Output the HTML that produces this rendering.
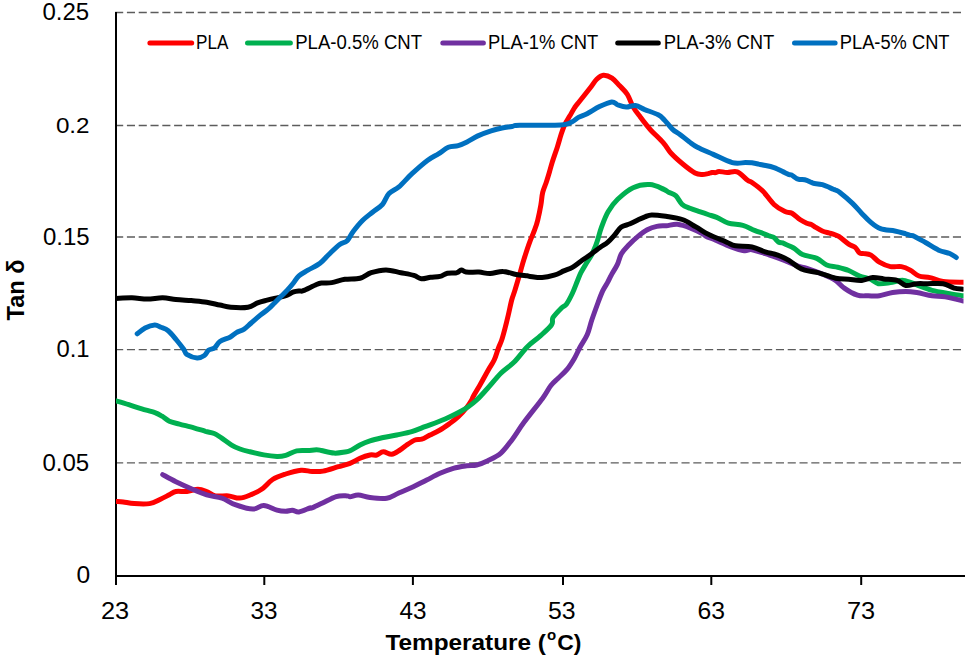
<!DOCTYPE html>
<html><head><meta charset="utf-8"><style>
html,body{margin:0;padding:0;background:#fff;}
svg{display:block;}
text{font-family:"Liberation Sans",sans-serif;fill:#000;}
</style></head><body>
<svg width="968" height="660" viewBox="0 0 968 660">
<rect width="968" height="660" fill="#fff"/>
<line x1="115.1" y1="12.5" x2="963" y2="12.5" stroke="#5c5c5c" stroke-width="1.35" stroke-dasharray="8.1 3.7"/>
<line x1="115.1" y1="125.5" x2="963" y2="125.5" stroke="#5c5c5c" stroke-width="1.35" stroke-dasharray="8.1 3.7"/>
<line x1="115.1" y1="237" x2="963" y2="237" stroke="#5c5c5c" stroke-width="1.35" stroke-dasharray="8.1 3.7"/>
<line x1="115.1" y1="349.6" x2="963" y2="349.6" stroke="#5c5c5c" stroke-width="1.35" stroke-dasharray="8.1 3.7"/>
<line x1="115.1" y1="462.8" x2="963" y2="462.8" stroke="#5c5c5c" stroke-width="1.35" stroke-dasharray="8.1 3.7"/>
<line x1="116" y1="12" x2="116" y2="585" stroke="#000" stroke-width="2"/>
<line x1="115" y1="576" x2="965" y2="576" stroke="#000" stroke-width="2"/>
<line x1="264.3" y1="576" x2="264.3" y2="585" stroke="#000" stroke-width="2"/>
<line x1="412.9" y1="576" x2="412.9" y2="585" stroke="#000" stroke-width="2"/>
<line x1="563" y1="576" x2="563" y2="585" stroke="#000" stroke-width="2"/>
<line x1="711.3" y1="576" x2="711.3" y2="585" stroke="#000" stroke-width="2"/>
<line x1="861.2" y1="576" x2="861.2" y2="585" stroke="#000" stroke-width="2"/>
<text x="42.4" y="19.6" font-size="23.24" textLength="46.8" lengthAdjust="spacingAndGlyphs">0.25</text>
<text x="55.9" y="133.4" font-size="22.90" textLength="33.7" lengthAdjust="spacingAndGlyphs">0.2</text>
<text x="43.0" y="244.5" font-size="24.60" textLength="46.7" lengthAdjust="spacingAndGlyphs">0.15</text>
<text x="56.5" y="357.0" font-size="23.61" textLength="33.1" lengthAdjust="spacingAndGlyphs">0.1</text>
<text x="42.4" y="470.5" font-size="23.61" textLength="46.8" lengthAdjust="spacingAndGlyphs">0.05</text>
<text x="76.4" y="583.2" font-size="23.26" textLength="13.7" lengthAdjust="spacingAndGlyphs">0</text>
<text x="100.9" y="618.6" font-size="23.24" textLength="28.2" lengthAdjust="spacingAndGlyphs">23</text>
<text x="250.6" y="618.6" font-size="23.24" textLength="27.0" lengthAdjust="spacingAndGlyphs">33</text>
<text x="399.5" y="618.6" font-size="23.24" textLength="27.0" lengthAdjust="spacingAndGlyphs">43</text>
<text x="547.9" y="618.6" font-size="23.24" textLength="27.6" lengthAdjust="spacingAndGlyphs">53</text>
<text x="697.6" y="618.6" font-size="23.24" textLength="27.5" lengthAdjust="spacingAndGlyphs">63</text>
<text x="846.9" y="618.6" font-size="23.24" textLength="28.2" lengthAdjust="spacingAndGlyphs">73</text>
<text x="385.4" y="650.3" font-size="22.97" font-weight="bold"><tspan textLength="160.6" lengthAdjust="spacingAndGlyphs">Temperature (</tspan><tspan font-size="15.0" dy="-10.0" dx="1.0">o</tspan><tspan dy="10.0" dx="1.0">C)</tspan></text>
<text transform="translate(23.6,320.5) rotate(-90)" font-size="23.45" font-weight="bold" textLength="61.1" lengthAdjust="spacingAndGlyphs">Tan δ</text>
<clipPath id="c"><rect x="116" y="0" width="847.5" height="576"/></clipPath>
<g clip-path="url(#c)" fill="none" stroke-width="5" stroke-linejoin="round" stroke-linecap="round">
<path d="M116.0,501.4 C117.2,501.5 120.2,501.5 123.2,501.9 C126.2,502.3 129.8,503.3 134.2,503.6 C138.6,503.9 145.1,504.3 149.5,503.6 C153.9,502.9 157.2,500.7 160.5,499.2 C163.8,497.7 166.7,496.1 169.3,494.8 C171.9,493.5 173.0,492.1 175.9,491.5 C178.8,490.9 183.2,491.9 186.9,491.5 C190.6,491.1 194.6,489.3 197.9,489.3 C201.2,489.3 203.8,490.4 206.7,491.5 C209.6,492.6 211.8,495.2 215.4,495.9 C219.1,496.6 224.6,495.5 228.6,495.9 C232.6,496.3 235.9,498.3 239.6,498.1 C243.3,497.9 246.9,496.3 250.6,494.8 C254.3,493.3 257.9,491.9 261.6,489.3 C265.3,486.8 268.6,482.1 272.6,479.5 C276.6,476.9 280.9,475.6 285.7,474.0 C290.4,472.4 296.7,470.6 301.1,470.2 C305.5,469.8 308.5,471.4 312.1,471.5 C315.8,471.6 318.6,471.9 323.0,471.1 C327.4,470.3 333.9,468.0 338.4,466.7 C342.9,465.4 346.4,464.7 350.0,463.3 C353.6,461.9 356.7,459.7 360.0,458.3 C363.3,456.9 367.2,455.6 370.0,455.0 C372.8,454.4 374.5,455.6 376.7,455.0 C378.9,454.4 380.8,451.8 383.3,451.7 C385.8,451.6 388.9,454.5 391.7,454.2 C394.5,453.9 397.5,451.5 400.0,450.0 C402.5,448.5 404.2,446.7 406.7,445.0 C409.2,443.3 412.5,441.0 415.0,440.0 C417.5,439.0 419.2,440.0 421.7,439.2 C424.2,438.4 426.9,436.5 430.0,435.0 C433.1,433.5 436.7,431.9 440.0,430.0 C443.3,428.1 446.9,425.5 450.0,423.3 C453.1,421.1 455.5,419.3 458.3,416.7 C461.1,414.1 464.5,410.3 466.7,407.5 C468.9,404.7 470.6,401.9 471.7,400.0 C472.8,398.1 472.1,398.5 473.5,396.0 C474.9,393.5 477.5,389.3 480.0,385.0 C482.5,380.7 485.9,374.2 488.3,370.0 C490.7,365.8 492.5,363.6 494.2,360.0 C495.9,356.4 497.1,351.6 498.3,348.3 C499.6,345.0 500.6,343.3 501.7,340.0 C502.8,336.7 503.9,332.5 505.0,328.3 C506.1,324.1 507.2,319.7 508.3,315.0 C509.4,310.3 510.6,304.2 511.7,300.0 C512.8,295.8 513.7,294.3 515.0,290.0 C516.3,285.7 518.2,279.4 519.7,274.2 C521.2,269.0 522.4,264.2 524.1,258.8 C525.8,253.5 527.9,246.9 529.7,242.1 C531.5,237.2 533.4,233.4 534.7,229.7 C536.1,226.0 536.8,224.0 537.8,219.8 C538.8,215.7 540.1,209.4 540.9,204.8 C541.7,200.2 541.8,196.1 542.7,192.4 C543.6,188.7 545.1,185.8 546.2,182.5 C547.3,179.2 548.3,175.9 549.3,172.5 C550.3,169.1 551.0,166.3 552.3,162.1 C553.6,157.9 555.8,151.8 557.3,147.2 C558.8,142.6 559.8,138.5 561.0,134.8 C562.2,131.1 563.2,127.9 564.7,124.8 C566.2,121.7 568.0,119.0 569.7,116.1 C571.4,113.2 573.1,110.0 574.7,107.5 C576.4,105.0 577.0,104.5 579.6,101.2 C582.2,98.0 587.2,91.7 590.1,88.0 C593.0,84.3 594.5,81.3 596.7,79.2 C598.9,77.1 600.8,75.4 603.3,75.2 C605.8,75.0 609.3,76.3 612.0,78.1 C614.7,79.9 617.1,83.1 619.7,85.8 C622.3,88.5 625.2,91.0 627.4,94.5 C629.6,98.0 630.8,102.8 632.9,106.6 C635.0,110.3 637.4,113.2 640.3,117.0 C643.1,120.8 646.1,124.9 650.0,129.2 C653.9,133.5 659.9,138.9 663.4,142.9 C666.9,146.9 667.8,149.7 671.1,153.3 C674.4,156.9 679.1,161.0 683.1,164.3 C687.1,167.6 691.8,171.3 695.0,173.0 C698.2,174.7 700.1,174.4 702.3,174.5 C704.5,174.6 706.5,173.9 708.1,173.6 C709.7,173.3 710.7,172.7 712.0,172.5 C713.3,172.3 714.5,172.8 715.7,172.6 C716.9,172.4 717.2,171.4 719.1,171.4 C721.0,171.4 724.3,172.4 727.3,172.5 C730.3,172.6 733.8,170.5 737.2,171.8 C740.6,173.1 745.1,178.4 747.6,180.2 C750.1,182.0 749.4,180.7 752.0,182.5 C754.6,184.3 759.3,187.6 763.0,191.3 C766.7,195.0 770.3,201.1 774.0,204.5 C777.7,207.9 782.0,210.2 785.0,211.6 C788.0,213.0 789.5,211.8 792.0,213.2 C794.5,214.6 797.8,218.1 800.3,219.8 C802.8,221.5 805.1,222.5 806.9,223.3 C808.7,224.1 809.8,223.7 811.3,224.4 C812.8,225.1 813.9,226.3 815.7,227.4 C817.5,228.5 820.1,230.1 822.3,231.0 C824.5,231.9 827.1,232.4 828.9,232.9 C830.7,233.4 831.6,233.6 833.3,234.2 C834.9,234.8 836.2,234.8 838.8,236.4 C841.4,238.1 846.0,242.3 848.7,244.1 C851.4,245.9 853.4,245.9 855.2,247.4 C857.0,248.9 858.1,252.0 859.6,253.0 C861.1,254.0 862.1,253.2 864.0,253.6 C865.9,253.9 868.4,253.7 871.0,255.1 C873.6,256.5 876.2,260.3 879.4,262.2 C882.6,264.1 886.7,265.9 890.4,266.6 C894.1,267.3 898.1,266.0 901.4,266.6 C904.7,267.2 907.3,268.5 910.2,270.1 C913.1,271.7 915.7,274.8 919.0,276.0 C922.3,277.2 926.0,276.7 930.0,277.6 C934.0,278.5 937.5,280.7 943.1,281.5 C948.7,282.3 960.1,282.1 963.5,282.2" stroke="#FF0000"/>
<path d="M116.0,400.8 C118.1,401.4 124.5,403.2 128.8,404.6 C133.1,406.0 137.5,407.6 141.8,408.9 C146.2,410.2 151.5,411.4 154.9,412.6 C158.3,413.8 159.7,414.8 162.1,416.2 C164.5,417.6 166.4,419.9 169.3,421.2 C172.2,422.5 175.4,423.0 179.5,424.1 C183.6,425.2 189.6,426.6 193.9,427.8 C198.2,429.0 202.1,430.4 205.5,431.4 C208.9,432.3 211.5,432.4 214.2,433.5 C216.8,434.6 218.5,436.0 221.4,437.9 C224.3,439.8 228.5,443.2 231.6,445.1 C234.7,447.0 236.9,447.9 240.0,449.0 C243.1,450.1 246.0,450.8 250.0,451.8 C254.0,452.8 259.3,454.1 263.8,454.9 C268.3,455.7 273.4,456.3 277.0,456.4 C280.6,456.5 282.4,456.2 285.7,455.3 C289.0,454.4 293.0,451.7 296.7,450.9 C300.4,450.1 304.4,450.7 307.7,450.5 C311.0,450.3 314.2,449.8 316.5,449.8 C318.8,449.8 318.5,449.9 321.4,450.5 C324.3,451.1 330.1,452.9 334.0,453.1 C337.9,453.4 342.3,452.4 345.0,452.0 C347.7,451.6 347.5,452.0 350.0,450.8 C352.5,449.6 356.7,446.7 360.0,445.0 C363.3,443.3 366.1,442.1 370.0,440.8 C373.9,439.6 378.9,438.5 383.3,437.5 C387.8,436.5 392.0,436.0 396.7,435.0 C401.4,434.0 407.0,433.1 411.7,431.7 C416.4,430.3 420.6,428.4 425.0,426.7 C429.4,425.0 434.1,423.4 438.3,421.7 C442.5,420.0 446.4,418.4 450.0,416.7 C453.6,415.0 456.9,413.4 460.0,411.7 C463.1,410.0 465.5,408.6 468.3,406.7 C471.1,404.8 473.6,402.9 476.7,400.0 C479.8,397.1 482.9,393.5 487.0,389.0 C491.1,384.5 496.6,377.5 501.1,373.0 C505.6,368.5 509.8,366.4 514.2,362.0 C518.6,357.6 523.0,351.1 527.4,346.7 C531.8,342.3 536.6,339.4 540.6,335.7 C544.6,332.0 549.5,327.7 551.6,324.7 C553.7,321.7 551.4,320.4 553.0,317.6 C554.6,314.8 559.3,310.1 561.5,307.9 C563.7,305.7 564.6,306.6 566.4,304.2 C568.2,301.8 570.6,297.1 572.4,293.3 C574.2,289.5 575.9,284.6 577.3,281.2 C578.7,277.8 579.5,275.5 580.9,272.7 C582.3,269.9 584.0,267.2 585.8,264.2 C587.6,261.2 590.2,257.5 591.8,254.5 C593.4,251.5 594.5,248.6 595.5,246.1 C596.5,243.6 596.8,242.7 597.8,239.5 C598.8,236.3 599.8,231.7 601.5,227.1 C603.2,222.5 605.4,216.3 608.1,211.7 C610.8,207.1 613.5,203.3 617.7,199.3 C621.9,195.3 627.7,190.1 633.1,187.7 C638.5,185.2 644.9,184.3 650.0,184.6 C655.1,184.9 660.8,188.1 663.9,189.4 C667.0,190.7 666.6,191.3 668.6,192.3 C670.6,193.3 673.5,193.6 675.7,195.6 C678.0,197.6 679.7,202.2 682.1,204.3 C684.5,206.4 687.1,207.1 690.0,208.3 C692.9,209.5 696.5,210.6 699.5,211.6 C702.5,212.6 705.1,213.5 708.0,214.5 C710.9,215.5 713.4,216.0 716.8,217.4 C720.2,218.8 724.0,221.9 728.4,223.2 C732.8,224.5 738.5,224.1 742.9,225.3 C747.2,226.5 751.0,229.0 754.5,230.4 C758.0,231.8 761.4,232.8 764.0,233.8 C766.6,234.8 768.3,235.6 770.0,236.2 C771.7,236.8 772.6,236.5 774.0,237.5 C775.4,238.5 776.9,241.1 778.4,242.0 C779.9,242.9 781.7,242.5 782.8,242.8 C783.9,243.2 783.2,243.2 785.0,244.1 C786.8,245.0 790.8,246.3 793.7,248.0 C796.6,249.7 798.6,252.8 802.5,254.5 C806.4,256.2 812.8,256.6 816.8,258.4 C820.8,260.1 823.2,263.5 826.7,265.0 C830.2,266.5 834.0,266.3 837.7,267.2 C841.4,268.1 845.1,269.0 848.7,270.5 C852.4,272.0 856.0,274.5 859.6,276.0 C863.2,277.5 867.5,278.0 870.6,279.3 C873.7,280.6 875.0,283.1 878.3,283.7 C881.6,284.2 886.2,283.2 890.4,282.6 C894.6,282.1 899.2,280.0 903.6,280.4 C908.0,280.8 912.0,283.1 916.8,284.8 C921.5,286.5 926.6,288.8 932.1,290.3 C937.6,291.8 944.5,292.7 949.7,293.6 C954.9,294.5 961.2,295.4 963.5,295.8" stroke="#00B050"/>
<path d="M162.7,474.6 C164.9,475.8 171.1,479.4 175.9,481.7 C180.7,484.0 186.2,486.5 191.3,488.7 C196.4,490.9 201.6,493.2 206.7,494.8 C211.8,496.4 217.2,496.5 222.0,498.1 C226.8,499.8 230.1,502.9 235.2,504.7 C240.3,506.5 248.0,509.0 252.8,509.1 C257.6,509.2 259.8,505.2 263.8,505.4 C267.8,505.6 273.4,509.2 277.0,510.2 C280.6,511.2 283.1,511.3 285.7,511.3 C288.2,511.3 290.1,510.1 292.3,510.2 C294.5,510.3 296.0,512.4 298.9,512.0 C301.8,511.6 307.7,508.7 309.9,508.0 C312.1,507.3 309.9,508.8 312.0,508.0 C314.1,507.2 318.5,504.9 322.5,503.0 C326.5,501.1 332.1,497.8 336.2,496.6 C340.3,495.4 344.8,495.9 347.1,495.9 C349.4,495.9 348.1,496.8 350.0,496.7 C351.9,496.6 355.0,494.9 358.3,495.0 C361.6,495.1 365.3,496.9 370.0,497.5 C374.7,498.1 382.0,499.0 386.7,498.3 C391.4,497.6 393.9,495.2 398.3,493.3 C402.7,491.4 408.6,488.9 413.3,486.7 C418.0,484.5 422.2,482.2 426.7,480.0 C431.1,477.8 435.6,475.2 440.0,473.3 C444.4,471.4 448.9,469.6 453.3,468.3 C457.8,467.1 462.8,466.4 466.7,465.8 C470.6,465.2 473.2,465.8 476.7,465.0 C480.2,464.2 483.8,462.8 487.8,460.8 C491.8,458.8 496.9,456.6 500.9,453.1 C504.9,449.6 508.0,445.0 511.9,439.9 C515.8,434.8 518.9,429.2 524.0,422.3 C529.1,415.4 538.2,404.3 542.7,398.2 C547.2,392.1 548.3,388.8 550.9,385.5 C553.5,382.2 555.5,380.9 558.2,378.2 C560.9,375.5 564.6,372.4 567.3,369.1 C570.0,365.8 572.4,361.8 574.5,358.2 C576.6,354.6 577.9,351.2 580.0,347.3 C582.1,343.4 585.3,339.1 587.3,334.5 C589.3,329.9 590.0,325.2 591.8,320.0 C593.6,314.8 596.1,307.9 597.9,303.0 C599.7,298.1 601.1,294.3 602.7,290.9 C604.3,287.5 606.4,284.6 607.6,282.4 C608.8,280.2 609.3,279.0 610.0,277.6 C610.7,276.2 610.6,276.3 611.8,274.1 C613.0,271.9 615.7,268.0 617.3,264.6 C618.9,261.2 619.6,256.9 621.4,253.7 C623.2,250.5 625.5,248.3 628.2,245.5 C630.9,242.7 634.5,239.2 637.7,236.6 C640.9,234.0 644.1,231.5 647.3,229.8 C650.5,228.1 653.6,227.1 656.8,226.4 C660.0,225.7 663.0,226.0 666.4,225.7 C669.8,225.3 673.4,224.0 677.3,224.3 C681.2,224.7 685.8,226.2 690.0,227.8 C694.2,229.4 700.0,232.3 702.6,233.7 C705.2,235.1 703.7,235.1 705.9,236.2 C708.1,237.3 711.5,238.5 715.7,240.3 C719.9,242.1 726.3,245.2 731.1,246.9 C735.9,248.7 740.8,250.3 744.3,250.8 C747.8,251.3 747.8,249.0 752.0,249.7 C756.2,250.4 764.1,253.3 769.6,255.1 C775.1,256.9 780.2,258.8 785.0,260.6 C789.8,262.4 794.5,264.8 798.1,266.1 C801.8,267.4 802.5,266.8 806.9,268.3 C811.3,269.8 819.7,272.9 824.5,274.9 C829.3,276.9 832.2,278.2 835.5,280.4 C838.8,282.6 840.6,285.7 844.3,288.1 C847.9,290.6 853.4,293.8 857.4,295.1 C861.4,296.4 864.7,295.7 868.4,295.8 C872.1,295.9 875.4,296.4 879.4,295.8 C883.4,295.2 888.2,293.2 892.6,292.5 C897.0,291.8 901.8,291.4 905.8,291.4 C909.8,291.4 912.4,291.8 916.8,292.5 C921.2,293.2 927.4,295.1 932.1,295.8 C936.9,296.5 940.1,296.0 945.3,296.9 C950.5,297.8 960.5,300.3 963.5,301.0" stroke="#7030A0"/>
<path d="M116.0,298.4 C118.7,298.3 126.8,297.7 132.0,297.8 C137.2,297.9 142.2,299.1 147.3,299.1 C152.4,299.1 157.9,297.7 162.7,297.8 C167.5,297.9 171.1,299.0 175.9,299.5 C180.7,300.0 186.2,300.2 191.3,300.6 C196.4,301.1 201.9,301.5 206.7,302.2 C211.4,302.9 215.8,304.2 219.8,305.0 C223.8,305.8 226.1,306.8 230.8,307.2 C235.5,307.6 243.5,307.9 248.0,307.2 C252.5,306.5 254.4,304.1 257.6,302.9 C260.8,301.7 264.1,301.0 267.1,300.2 C270.1,299.4 272.6,298.8 275.6,298.1 C278.6,297.4 282.1,297.0 285.1,296.0 C288.1,295.0 291.1,292.8 293.6,291.9 C296.1,291.0 298.4,291.1 300.0,290.9 C301.6,290.7 300.4,291.8 303.2,290.7 C305.9,289.6 313.4,285.8 316.5,284.5 C319.6,283.2 319.5,283.3 322.0,283.0 C324.5,282.7 327.9,283.2 331.7,282.6 C335.5,282.0 340.2,280.0 344.9,279.3 C349.6,278.6 355.6,279.3 360.0,278.2 C364.4,277.1 366.9,274.1 371.2,272.7 C375.5,271.3 381.1,269.9 386.0,269.9 C390.9,269.9 396.2,271.8 400.9,272.7 C405.5,273.6 410.5,274.4 413.9,275.4 C417.3,276.4 418.5,278.5 421.3,278.8 C424.1,279.1 427.5,277.7 430.6,277.3 C433.7,276.9 437.2,277.1 440.0,276.4 C442.8,275.7 444.6,273.8 447.4,273.2 C450.2,272.6 454.4,273.2 456.7,272.7 C459.0,272.1 459.8,270.0 461.3,269.9 C462.9,269.8 463.1,271.7 466.0,272.1 C468.9,272.5 475.0,271.9 479.0,272.1 C483.0,272.4 486.1,273.7 490.1,273.6 C494.1,273.5 498.8,271.2 503.1,271.4 C507.4,271.5 512.1,273.8 516.1,274.5 C520.1,275.2 525.0,275.5 527.3,275.8 C529.6,276.1 527.5,276.1 530.0,276.4 C532.5,276.7 538.1,277.8 542.1,277.6 C546.1,277.4 550.6,276.3 554.2,275.2 C557.8,274.1 560.9,272.2 563.9,270.9 C566.9,269.6 569.6,268.9 572.4,267.3 C575.2,265.7 577.9,263.3 580.9,261.2 C583.9,259.1 587.4,256.8 590.6,254.5 C593.8,252.2 597.5,249.3 600.3,247.3 C603.1,245.3 605.2,244.4 607.6,242.4 C610.0,240.4 612.2,237.8 614.5,235.2 C616.8,232.6 618.7,229.0 621.3,227.1 C623.9,225.2 627.2,225.1 630.1,223.8 C633.0,222.5 636.2,220.7 638.7,219.5 C641.2,218.3 642.8,217.6 645.0,216.8 C647.2,216.1 648.2,215.1 651.7,215.0 C655.2,214.9 660.7,215.6 665.8,216.3 C670.9,217.1 677.2,217.8 682.2,219.5 C687.2,221.2 691.4,224.3 695.5,226.7 C699.6,229.1 704.2,232.1 707.0,233.7 C709.8,235.3 710.0,235.1 712.5,236.2 C715.0,237.3 719.7,239.2 722.3,240.3 C724.9,241.4 725.7,241.9 727.9,242.8 C730.1,243.7 731.5,245.1 735.5,245.8 C739.5,246.5 747.0,246.0 752.0,247.0 C757.0,248.0 761.5,250.7 765.2,251.9 C768.9,253.1 771.4,253.3 774.0,254.0 C776.6,254.7 778.1,255.1 780.6,256.2 C783.1,257.3 786.4,258.8 789.3,260.6 C792.2,262.4 795.5,265.6 798.1,267.2 C800.7,268.8 801.4,269.2 804.7,270.1 C808.0,271.0 812.8,271.4 817.9,272.7 C823.0,274.0 830.4,277.1 835.5,278.2 C840.6,279.3 844.3,278.9 848.7,279.3 C853.1,279.7 857.8,280.7 861.8,280.4 C865.8,280.1 869.1,277.9 872.8,277.6 C876.5,277.4 879.8,278.4 883.8,278.9 C887.8,279.4 893.3,279.3 897.0,280.4 C900.7,281.5 902.5,284.9 905.8,285.5 C909.1,286.1 913.1,284.0 916.8,283.7 C920.4,283.4 923.3,283.7 927.7,283.7 C932.1,283.7 938.7,283.0 943.1,283.7 C947.5,284.4 950.8,287.2 954.1,288.1 C957.4,289.0 961.4,289.0 962.9,289.2" stroke="#000000"/>
<path d="M137.2,333.8 C138.5,332.8 142.2,329.5 145.1,328.0 C148.0,326.5 152.2,325.1 154.8,325.0 C157.5,324.9 158.8,326.4 161.0,327.3 C163.2,328.2 165.6,328.6 168.2,330.7 C170.8,332.8 173.9,336.9 176.5,340.0 C179.1,343.1 182.0,346.9 183.7,349.3 C185.4,351.7 184.6,352.9 186.8,354.4 C189.0,355.8 194.2,357.8 197.1,358.0 C200.0,358.2 202.5,356.8 204.4,355.5 C206.3,354.2 206.8,351.6 208.5,350.3 C210.2,349.0 212.8,349.3 214.7,347.8 C216.6,346.3 217.3,343.3 219.9,341.5 C222.5,339.7 227.2,338.7 230.0,337.2 C232.8,335.7 234.1,333.9 236.4,332.6 C238.7,331.3 241.3,331.0 243.8,329.4 C246.3,327.8 248.5,325.3 251.2,323.0 C253.8,320.7 256.9,317.9 259.7,315.6 C262.5,313.3 265.7,311.3 268.2,309.2 C270.7,307.1 272.4,305.0 274.5,302.9 C276.6,300.8 278.8,298.6 280.9,296.5 C283.0,294.4 285.2,292.4 287.3,290.1 C289.4,287.8 291.7,285.1 293.6,282.7 C295.5,280.3 296.5,277.9 298.9,275.8 C301.3,273.7 304.4,272.3 307.9,270.2 C311.4,268.1 316.5,266.0 320.0,263.3 C323.5,260.6 325.8,257.3 329.1,254.2 C332.4,251.0 336.7,246.6 339.7,244.4 C342.7,242.2 344.9,243.0 347.1,240.8 C349.4,238.7 350.6,234.9 353.2,231.5 C355.8,228.1 359.3,223.7 362.5,220.5 C365.7,217.3 369.2,214.9 372.5,212.2 C375.8,209.5 379.6,207.6 382.4,204.5 C385.1,201.4 386.2,196.4 389.0,193.5 C391.8,190.6 395.1,190.2 398.9,186.9 C402.7,183.6 407.2,178.1 412.0,173.7 C416.8,169.3 423.0,163.8 427.4,160.5 C431.8,157.2 434.9,156.1 438.4,153.9 C441.9,151.7 445.0,148.7 448.3,147.3 C451.6,145.9 455.1,146.5 458.2,145.6 C461.3,144.7 463.7,143.5 467.0,141.9 C470.3,140.3 473.9,137.7 477.9,135.9 C481.9,134.1 487.1,132.2 491.1,130.9 C495.1,129.6 498.6,128.7 502.1,128.0 C505.6,127.3 509.1,127.0 512.0,126.5 C515.0,126.0 511.6,125.5 519.8,125.3 C528.0,125.0 552.3,125.6 561.0,125.0 C569.7,124.4 569.3,123.0 572.2,121.7 C575.1,120.4 575.9,118.7 578.4,117.4 C580.9,116.1 583.6,115.5 587.1,113.7 C590.6,111.9 595.4,108.6 599.5,106.6 C603.6,104.6 608.6,102.2 611.7,101.9 C614.8,101.6 615.5,104.2 617.9,105.0 C620.3,105.8 623.3,106.9 626.2,107.0 C629.1,107.1 632.4,105.1 635.5,105.5 C638.6,105.9 641.0,108.0 644.8,109.6 C648.6,111.1 654.9,113.1 658.2,114.8 C661.5,116.5 662.0,117.6 664.4,120.0 C666.8,122.4 670.0,126.9 672.6,129.3 C675.2,131.7 677.1,132.3 679.9,134.4 C682.7,136.5 686.3,139.6 689.2,141.7 C692.1,143.8 693.4,145.1 697.4,147.2 C701.4,149.3 707.5,151.8 713.3,154.4 C719.1,157.0 726.9,161.2 732.3,162.6 C737.6,164.0 742.1,162.6 745.4,162.6 C748.7,162.6 749.8,162.6 752.0,162.8 C754.2,163.1 756.8,163.7 758.6,164.1 C760.4,164.5 760.4,164.4 763.0,165.0 C765.6,165.6 770.3,166.3 774.0,167.6 C777.7,168.9 782.4,171.5 785.0,172.7 C787.6,173.9 788.3,174.3 789.4,174.7 C790.5,175.1 790.0,174.2 791.5,174.9 C793.0,175.7 795.9,178.4 798.1,179.2 C800.3,180.0 802.5,179.3 804.7,179.8 C806.9,180.3 809.9,181.8 811.4,182.4 C812.9,183.0 811.7,182.9 813.5,183.3 C815.3,183.7 819.0,183.7 822.3,184.7 C825.6,185.7 831.1,188.3 833.3,189.2 C835.5,190.1 834.4,189.5 835.5,190.1 C836.6,190.7 837.1,190.3 839.9,192.5 C842.7,194.7 848.9,199.9 852.5,203.4 C856.1,206.9 858.8,210.3 861.8,213.4 C864.8,216.5 867.5,219.6 870.6,222.2 C873.7,224.8 876.5,227.2 880.5,228.7 C884.5,230.2 890.6,230.2 894.8,231.0 C899.0,231.8 903.2,233.1 905.8,233.8 C908.4,234.5 908.7,235.0 910.2,235.4 C911.7,235.8 912.1,235.2 914.6,236.4 C917.1,237.6 921.5,240.2 925.5,242.5 C929.5,244.8 934.7,248.4 938.7,250.2 C942.7,252.0 946.8,252.3 949.7,253.5 C952.6,254.7 955.2,256.8 956.3,257.5" stroke="#0070C0"/>
</g>
<line x1="149.9" y1="42.9" x2="191.7" y2="42.9" stroke="#FF0000" stroke-width="5" stroke-linecap="round"/>
<text x="196.0" y="48.9" font-size="19.67" textLength="32.3" lengthAdjust="spacingAndGlyphs">PLA</text>
<line x1="247.5" y1="42.9" x2="290.4" y2="42.9" stroke="#00B050" stroke-width="5" stroke-linecap="round"/>
<text x="295.2" y="48.9" font-size="19.67" textLength="126.9" lengthAdjust="spacingAndGlyphs">PLA-0.5% CNT</text>
<line x1="442.8" y1="42.9" x2="483.4" y2="42.9" stroke="#7030A0" stroke-width="5" stroke-linecap="round"/>
<text x="488.0" y="48.9" font-size="19.67" textLength="110.2" lengthAdjust="spacingAndGlyphs">PLA-1% CNT</text>
<line x1="617.7" y1="42.9" x2="658.3" y2="42.9" stroke="#000000" stroke-width="5" stroke-linecap="round"/>
<text x="663.8" y="48.9" font-size="19.67" textLength="110.5" lengthAdjust="spacingAndGlyphs">PLA-3% CNT</text>
<line x1="794.5" y1="42.9" x2="835.1" y2="42.9" stroke="#0070C0" stroke-width="5" stroke-linecap="round"/>
<text x="839.8" y="48.9" font-size="19.67" textLength="109.7" lengthAdjust="spacingAndGlyphs">PLA-5% CNT</text>
</svg>
</body></html>
